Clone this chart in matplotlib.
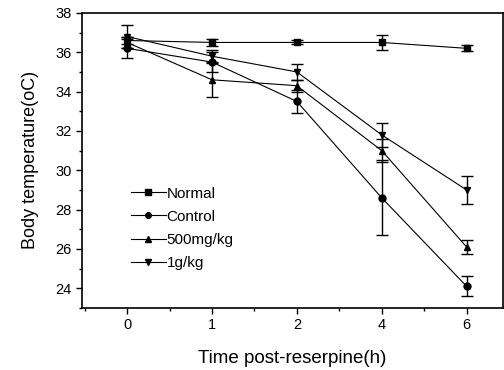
#!/usr/bin/env python3

import numpy as np
import matplotlib
matplotlib.use("Agg")
import matplotlib.pyplot as plt
from matplotlib.lines import Line2D
from matplotlib.ticker import MultipleLocator


time_labels = ["0", "1", "2", "4", "6"]

normal_mean = [36.6, 36.5, 36.5, 36.5, 36.2]
normal_err = [0.2, 0.2, 0.1, 0.4, 0.15]

control_mean = [36.2, 35.5, 33.5, 28.6, 24.1]
control_err = [0.5, 0.5, 0.6, 1.9, 0.5]

low_mean = [36.5, 34.6, 34.3, 31.0, 26.1]
low_err = [0.3, 0.85, 0.3, 0.6, 0.35]

high_mean = [36.8, 35.8, 35.0, 31.8, 29.0]
high_err = [0.6, 0.3, 0.4, 0.6, 0.7]

series = [
    ("Normal", normal_mean, normal_err, "s"),
    ("Control", control_mean, control_err, "o"),
    ("500mg/kg", low_mean, low_err, "^"),
    ("1g/kg", high_mean, high_err, "v"),
]


def main():
    plt.rcParams["font.family"] = ["Liberation Sans", "DejaVu Sans"]

    fig = plt.figure(figsize=(5.04, 3.70), dpi=100)
    ax = fig.add_axes([0.163, 0.168, 0.835, 0.797])

    x = np.arange(len(time_labels))
    handles = []
    for label, mean, err, marker in series:
        ax.errorbar(
            x,
            mean,
            yerr=err,
            marker=marker,
            markersize=5,
            color="black",
            linewidth=0.8,
            elinewidth=1.0,
            capsize=4,
            capthick=1.0,
        )
        # legend entry without the error bar
        handles.append(Line2D([], [], color="black", linewidth=0.8,
                              marker=marker, markersize=4, label=label))

    ax.set_xlim(-0.53, 4.43)
    ax.set_ylim(23, 38)
    ax.set_xticks(x)
    ax.set_xticklabels(time_labels)
    ax.xaxis.set_minor_locator(MultipleLocator(0.5))
    ax.yaxis.set_major_locator(MultipleLocator(2))
    ax.yaxis.set_minor_locator(MultipleLocator(1))
    ax.tick_params(axis="both", which="major", direction="out", length=4, width=1, labelsize=10.5)
    ax.tick_params(axis="both", which="minor", direction="out", length=2, width=1)

    for spine in ax.spines.values():
        spine.set_linewidth(1.2)

    ax.set_xlabel("Time post-reserpine(h)", fontsize=13.5, labelpad=13)
    ax.set_ylabel("Body temperature(oC)", fontsize=13, labelpad=12)

    ax.legend(
        handles=handles,
        loc="lower left",
        bbox_to_anchor=(0.09, 0.092),
        frameon=False,
        fontsize=11,
        handlelength=2.3,
        handletextpad=0.05,
        labelspacing=0.6,
        borderpad=0.2,
    )

    fig.savefig("out.png", dpi=100)
    plt.close(fig)


if __name__ == "__main__":
    main()
